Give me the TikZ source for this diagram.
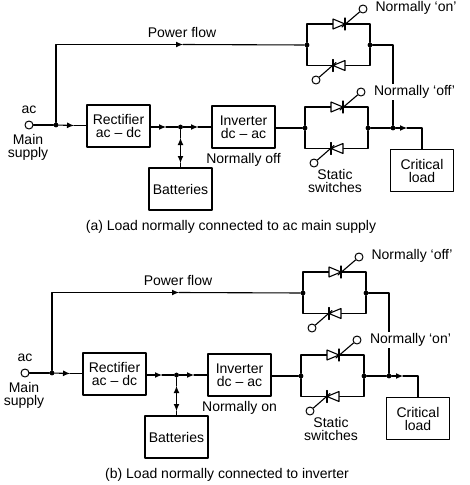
\documentclass[tikz,border=0pt]{standalone}
\usepackage{fontspec}
\setmainfont{Liberation Sans}
\usetikzlibrary{arrows.meta}
\tikzset{
  blk/.style={rectangle, draw, line width=1.1pt, minimum width=63pt, minimum height=42pt, inner sep=0pt, align=center},
  dotv/.style={circle, fill, inner sep=1.7pt},
  termv/.style={circle, draw, fill=white, line width=1pt, minimum size=8pt, inner sep=0pt},
  lbl/.style={align=center, inner sep=1pt},
  wire/.style={line width=1.1pt},
  flow/.style={wire, -{Latex[length=7pt,width=6pt]}},
  dflow/.style={wire, {Latex[length=7pt,width=6pt]}-{Latex[length=7pt,width=6pt]}},
  every node/.style={font=\fontsize{14}{13}\selectfont},
  every picture/.style={line cap=round, line join=round}
}

\begin{document}
\begin{tikzpicture}[x=1pt,y=-1pt]
  \useasboundingbox (0,0) rectangle (469,485);

  \foreach \pn/\dx/\dy/\topnote/\lownote/\batnote/\capt in {
    a/0/0/on/off/off/(a) Load normally connected to ac main supply,
    b/-4/248/off/on/on/(b) Load normally connected to inverter}
  {
    \begin{scope}[shift={(\dx,\dy)}]
      \node[blk] (rect\pn) at (118.5,126) {Rectifier\\ac – dc};
      \node[blk] (inv\pn) at (243.5,127) {Inverter\\dc – ac};
      \node[blk] (bat\pn) at (180.5,189) {Batteries};
      \node[blk] (load\pn) at (422,170.5) {Critical\\load};

      \node[termv] (main\pn) at (29,125) {};
      \node[dotv] (mj\pn) at (56,125) {};
      \node[dotv] (dcj\pn) at (180.5,127) {};
      \node[dotv] (lj\pn) at (393,128) {};

      \foreach \name/\x/\y in {
        t1/74/125.5, t2/166/127, t3/198/127, t4/183/44.5, t5/407/128,
        bu/180.5/138, bd/180.5/163, cor/393/45}
      {
        \coordinate (\name\pn) at (\x,\y);
      }

      % the two switch pairs
      \foreach \sw/\ox/\oy in {t/0/0,l/-2/83}
      {
        \begin{scope}[shift={(\ox,\oy)}]
          \node[dotv] (swl\sw\pn) at (307,45) {};
          \node[dotv] (swr\sw\pn) at (370,45) {};
          \coordinate (up\sw\pn) at (345,24);
          \coordinate (dn\sw\pn) at (333,65.5);
          \coordinate (gu\sw\pn) at (342,27);
          \coordinate (gd\sw\pn) at (336,62.5);
          \node[termv] (gate1\sw\pn) at (363,9) {};
          \node[termv] (gate2\sw\pn) at (316,80) {};

          \draw[wire] (swl\sw\pn) |- (up\sw\pn) -| (swr\sw\pn);
          \draw[wire] (swl\sw\pn) |- (dn\sw\pn) -| (swr\sw\pn);
          \draw[wire, fill=white] (333,19) -- (345,24) -- (333,29) -- cycle;
          \draw[wire, fill=white] (345,60.5) -- (333,65.5) -- (345,70.5) -- cycle;
          \draw[wire] (345,18) -- (345,30);
          \draw[wire] (333,59.5) -- (333,71.5);
          \draw[wire] (gu\sw\pn) -- (gate1\sw\pn);
          \draw[wire] (gd\sw\pn) -- (gate2\sw\pn);
        \end{scope}
      }

      \draw[wire] (main\pn) -- (mj\pn);
      \draw[flow] (mj\pn) -- (t1\pn);
      \draw[wire] (t1\pn) -- (rect\pn.west |- t1\pn);
      \draw[flow] (rect\pn.east |- t2\pn) -- (t2\pn);
      \draw[wire] (t2\pn) -- (dcj\pn);
      \draw[flow] (dcj\pn) -- (t3\pn);
      \draw[wire] (t3\pn) -- (inv\pn.west |- t3\pn);
      \draw[dflow] (bu\pn) -- (bd\pn);
      \draw[wire] (dcj\pn) -- (bu\pn);
      \draw[wire] (bd\pn) -- (bat\pn.north);

      \draw[flow] (mj\pn) |- (t4\pn);
      \draw[wire] (t4\pn) -- (swlt\pn);
      \draw[wire] (inv\pn.east |- swll\pn) -- (swll\pn);
      \draw[wire] (swrt\pn) -- (cor\pn) -- (lj\pn);
      \draw[wire] (swrl\pn) -- (lj\pn);
      \draw[flow] (lj\pn) -- (t5\pn);
      \draw[wire] (t5\pn) -| (load\pn.north);

      \node[lbl] (ac\pn) at (29,110) {ac};
      \node[lbl] (sup\pn) at (28,147.5) {Main\\supply};
      \node[lbl] (pow\pn) at (182,32) {Power flow};
      \node[lbl] (nbat\pn) at (243.5,160) {Normally \batnote};
      \node[lbl] (stat\pn) at (335,181) {Static\\switches};
      \node[lbl] (ntop\pn) at (416,8) {Normally `\topnote'};
      \node[lbl, fill=white] (nlow\pn) at (414.5,92) {Normally `\lownote'};
      \node[lbl] (cap\pn) at (231,227) {\capt};
    \end{scope}
  }
\end{tikzpicture}
\end{document}
